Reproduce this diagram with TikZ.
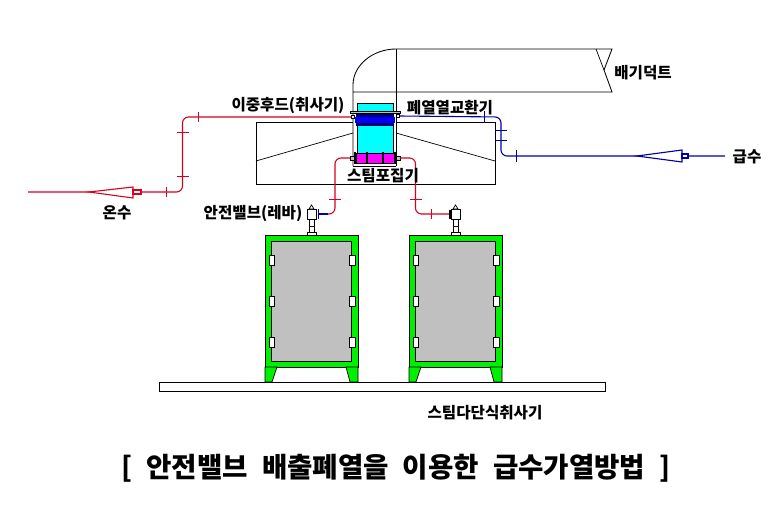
\documentclass[tikz,border=0pt]{standalone}
\usepackage{fontspec}
\setmainfont{Noto Sans CJK KR}
\newfontfamily\titlefont[WordSpace=2.2]{Noto Sans CJK KR}
\definecolor{pipered}{RGB}{215,0,30}
\definecolor{pipeblue}{RGB}{0,0,170}
\definecolor{boilgreen}{RGB}{0,240,0}
\definecolor{boilgray}{RGB}{192,192,192}
\definecolor{hoodcyan}{RGB}{0,255,255}
\definecolor{hoodpink}{RGB}{255,0,255}
\definecolor{coilblue}{RGB}{0,0,255}
\definecolor{coildark}{RGB}{0,0,110}
\usetikzlibrary{positioning}

\begin{document}
\begin{tikzpicture}[x=1pt,y=-1pt]
			\tikzstyle{tag}=[inner sep=0pt,font=\bfseries\fontsize{15.6}{15.6}\selectfont]
			\tikzstyle{redpipe}=[draw=pipered,line width=1.1pt,rounded corners=6pt]
			\tikzstyle{bluepipe}=[draw=pipeblue,line width=1.1pt,rounded corners=6pt]
			\tikzstyle{fineline}=[draw=black,line width=0.7pt]
			\tikzstyle{heavyline}=[draw=black,line width=0.85pt]
			\useasboundingbox[fill=white] (0,0) rectangle (772,511);

			% duct
			\draw[heavyline] (353,166) -- (353,85) .. controls (353,65) and (373,49) .. (396,49) -- (612,49) -- (604,70) -- (612,92) -- (353,92);
			\draw[heavyline] (396,49) -- (396,166);
			\draw[fineline] (596,49) -- (604,70);

			% hood
			\draw[heavyline] (353,122) -- (256,122) -- (256,184) -- (495,184) -- (495,122) -- (396,122);
			\draw[fineline] (256,161) -- (353,133);
			\draw[fineline] (495,161) -- (396,133);

			% heat exchanger
			\draw[fineline,fill=hoodcyan] (357,103) rectangle (393,153);
			\draw[fineline,fill=boilgray] (350,111) rectangle (400,113.5);
			\fill[coildark] (356,114) rectangle (394,126);
			\fill[coilblue] (355,117) rectangle (395,123);
			\draw[fineline,fill=hoodpink] (356,153) rectangle (394,163);
			\foreach \x in {355,367,383,395}
				\draw[black,line width=1.4pt] (\x,152) -- (\x,164);
			\draw[heavyline] (353,166) -- (396,166);
			\draw[fineline,fill=boilgray] (350,156) rectangle (354,160);
			\draw[fineline,fill=boilgray] (396,156) rectangle (400,160);
			\draw[fineline,fill=white] (351,115) rectangle (354,118);
			\draw[fineline,fill=white] (396,114) rectangle (399,117);

			% pipe ends
			\coordinate (hotin) at (28,192);
			\coordinate (hotend) at (351,117);
			\coordinate (coldin) at (725,156);
			\coordinate (coldend) at (399,116);
			\coordinate (stmL) at (350,158);
			\coordinate (vlvL) at (318,214);
			\coordinate (stmR) at (400,158);
			\coordinate (vlvR) at (449,214);

			% pipes
			\draw[redpipe] (hotin) -- (182.5,192) -- (182.5,117) -- (hotend);
			\draw[bluepipe] (coldin) -- (501,156) -- (501,117) -- (coldend);
			\draw[redpipe] (stmL) -- (335,158) -- (335,214) -- (326,214);
			\draw[bluepipe,rounded corners=0pt] (328,214) -- (vlvL);
			\draw[redpipe] (stmR) -- (415.5,158) -- (415.5,214) -- (vlvR);

			% pipe ticks
			\foreach \x/\y in {166/192,198/117,431/214}
				\draw[pipered,line width=1pt] (\x,\y-5) -- (\x,\y+5);
			\foreach \x/\y in {182.5/176,182.5/133,335/199,415.5/199}
				\draw[pipered,line width=1pt] (\x-6,\y) -- (\x+6,\y);
			\foreach \x/\y in {484/117,516/156}
				\draw[pipeblue,line width=1pt] (\x,\y-6) -- (\x,\y+6);
			\foreach \x/\y in {501/131,501/140}
				\draw[pipeblue,line width=1pt] (\x-6,\y) -- (\x+6,\y);
			\draw[pipeblue,line width=1pt] (318,209) -- (318,219);

			% reducers
			\draw[pipered,line width=1.1pt,fill=white] (89,192) -- (133,187) -- (133,198) -- cycle;
			\draw[pipered,line width=1.1pt,fill=white] (133,190) rectangle (141,194);
			\draw[pipeblue,line width=1.1pt,fill=white] (637,156) -- (682,150) -- (682,162) -- cycle;
			\draw[pipeblue,line width=1.1pt,fill=white] (682,154) rectangle (688,158);

			% boilers
			\foreach \b in {0,144} {
				\draw[fineline,fill=boilgreen] (265+\b,235) rectangle (358+\b,367);
				\draw[fineline,fill=boilgray] (271+\b,241) rectangle (351+\b,361);
				\draw[fineline,fill=boilgreen] (265+\b,367) -- (277+\b,367) -- (272+\b,382) -- (265+\b,382) -- cycle;
				\draw[fineline,fill=boilgreen] (346+\b,367) -- (358+\b,367) -- (358+\b,382) -- (350+\b,382) -- cycle;
				\foreach \y in {255,296,337} {
					\draw[fineline,fill=white] (269+\b,\y) rectangle (274+\b,\y+10);
					\draw[fineline,fill=white] (349+\b,\y) rectangle (355+\b,\y+10);
				}
				% valve
				\draw[fineline,fill=white] (307+\b,232) rectangle (316+\b,235);
				\draw[fineline,fill=white] (309+\b,219) rectangle (314+\b,232);
				\draw[fineline] (309+\b,226) -- (314+\b,226);
				\draw[fineline,fill=white] (307+\b,209) rectangle (316+\b,219);
				\draw[fineline,fill=white] (309+\b,209) -- (311.5+\b,205) -- (314+\b,209) -- cycle;
			}
			\draw[fineline,fill=black] (449,210) rectangle (451,218);

			% base
			\draw[heavyline,fill=white] (159,382) rectangle (605,391);

			% labels
			\node[tag] (onsu) at (117,213) {온수};
			\node[tag] (geupsu) at (747,157) {급수};
			\node[tag] (duct) at (643,73) {배기덕트};
			\node[tag] (recover) at (450,108) {폐열열교환기};
			\node[tag] (hood) at (288,106) {이중후드(취사기)};
			\node[tag] (collect) at (383,176) {스팀포집기};
			\node[tag] (valve) at (253,214) {안전밸브(레바)};
			\node[tag] (cooker) at (485,413) {스팀다단식취사기};
			\node[inner sep=0pt,font=\titlefont\bfseries\fontsize{27.6}{27.6}\selectfont] (title) at (396,468) {[ 안전밸브 배출폐열을 이용한 급수가열방법 ]};
\end{tikzpicture}
\end{document}
